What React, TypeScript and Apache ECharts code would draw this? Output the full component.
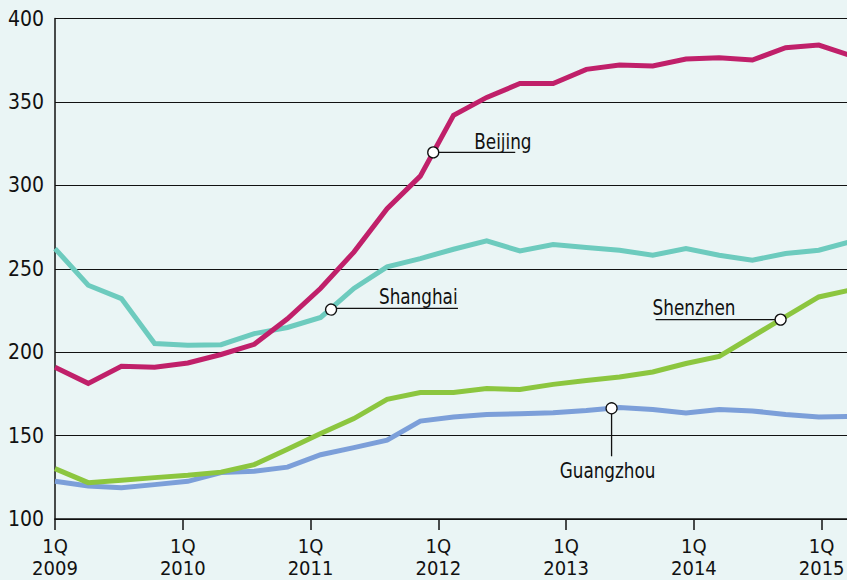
import React, { useEffect, useRef } from "react";
import * as echarts from "echarts";

// Index of each plotted observation (25 evenly spaced points)
const pointIndex = Array.from({ length: 25 }, (_, i) => i);
// Tick labels: first quarter of each year
const tickQuarter = "1Q";
const yearLabels = ["2009", "2010", "2011", "2012", "2013", "2014", "2015"];
const yTicks = [100, 150, 200, 250, 300, 350, 400];

const beijing = [191, 181.3, 191.5, 190.9, 193.5, 198.6, 204.7, 220, 238.3, 260, 286, 305.5, 342, 352.7, 361, 361, 369.5, 372.1, 371.5, 375.7, 376.5, 375.1, 382.5, 384.1, 377.5];
const shanghai = [262.1, 240.1, 232.1, 205.2, 204.1, 204.5, 211.1, 214.8, 220.8, 238.2, 251.1, 256.1, 261.7, 266.7, 260.7, 264.5, 262.7, 261.1, 258.1, 262.1, 258.1, 255.1, 259.1, 261.1, 266.5];
const shenzhen = [130.2, 121.8, 123.2, 124.8, 126.2, 128.1, 132.6, 141.8, 151.2, 160.2, 171.7, 175.8, 175.8, 178.2, 177.6, 180.7, 183, 185.1, 188.1, 193.2, 197.5, 209.4, 221.3, 233.1, 237.5];
const guangzhou = [122.6, 119.8, 118.8, 120.6, 122.6, 127.8, 128.6, 131.1, 138.5, 142.8, 147.2, 158.7, 161.1, 162.7, 163.1, 163.7, 165, 166.8, 165.6, 163.6, 165.6, 164.8, 162.7, 161.1, 161.5];

const cityNames = ["Beijing", "Shanghai", "Shenzhen", "Guangzhou"];
const cityValues = [beijing, shanghai, shenzhen, guangzhou];
// where along each line (in observation index units) the label marker sits
const labelAt = [11.39, 8.31, 21.85, 16.76];

const COLORS = ["#c0206a", "#6dcbbe", "#8cc63f", "#7c9fd9"];
const FONT = "'Liberation Sans Narrow', 'Arial Narrow', 'DejaVu Sans Condensed', sans-serif";

// layout of leader lines and texts, in pixels relative to the marker
const labelLayout = [
  { line: [0, 0, 82, 0], tx: 41, ty: -11, align: "left" },
  { line: [0, 0, 127, 0], tx: 48, ty: -12, align: "left" },
  { line: [-125, 0, 0, 0], tx: -128, ty: -12, align: "left" },
  { line: [0, 0, 0, 48], tx: -4, ty: 62, align: "center" },
];

function interp(arr: number[], k: number) {
  const i = Math.floor(k);
  const f = k - i;
  return arr[i] + (arr[Math.min(i + 1, arr.length - 1)] - arr[i]) * f;
}

export default function App() {
  const ref = useRef<HTMLDivElement>(null);
  useEffect(() => {
    const chart = echarts.init(ref.current!, undefined, { renderer: "svg" });
    const order = [3, 2, 1, 0];
    const lineSeries = order.map((ci) => ({
      type: "line",
      name: cityNames[ci],
      xAxisIndex: 0,
      data: pointIndex.map((i) => [i, cityValues[ci][i]]),
      symbol: "none",
      lineStyle: { color: COLORS[ci], width: 5, cap: "butt", join: "miter" },
      itemStyle: { color: COLORS[ci] },
      z: 2,
    }));
    const annData = cityNames.map((_, ci) => [labelAt[ci], interp(cityValues[ci], labelAt[ci])]);
    chart.setOption({
      animation: false,
      backgroundColor: "#eaf5f5",
      grid: { left: 55, right: -5, top: 18.5, bottom: 61, containLabel: false, outerBoundsMode: "none" },
      xAxis: [
        {
          type: "value",
          min: 0,
          max: pointIndex.length - 1,
          show: false,
          splitLine: { show: false },
        },
        {
          type: "value",
          position: "bottom",
          min: 0,
          max: 24.95,
          interval: 4,
          axisLine: { show: true, onZero: false, lineStyle: { color: "#111", width: 1.5 } },
          axisTick: { show: true, length: 11, inside: false, lineStyle: { color: "#111", width: 1.5 } },
          splitLine: { show: false },
          axisLabel: {
            show: true,
            margin: 16,
            color: "#111",
            fontSize: 20,
            lineHeight: 22,
            fontFamily: FONT,
            formatter: (v: number) => (v % 4 === 0 && yearLabels[v / 4] ? tickQuarter + "\n" + yearLabels[v / 4] : ""),
          },
        },
      ],
      yAxis: {
        type: "value",
        min: yTicks[0],
        max: yTicks[yTicks.length - 1],
        interval: 50,
        axisLine: { show: true, onZero: false, lineStyle: { color: "#111", width: 1.5 } },
        axisTick: { show: false },
        splitLine: { show: true, lineStyle: { color: "#111", width: 1 } },
        axisLabel: { color: "#111", fontSize: 21, margin: 11, fontFamily: FONT },
      },
      series: [
        ...lineSeries,
        {
          type: "custom",
          xAxisIndex: 0,
          clip: false,
          z: 10,
          data: annData,
          renderItem: (params: any, api: any) => {
            const ci = params.dataIndex;
            const lay = labelLayout[ci];
            const p = api.coord([api.value(0), api.value(1)]);
            const x = p[0];
            const y = p[1];
            return {
              type: "group",
              children: [
                {
                  type: "line",
                  shape: { x1: x + lay.line[0], y1: y + lay.line[1], x2: x + lay.line[2], y2: y + lay.line[3] },
                  style: { stroke: "#111", lineWidth: 1.3 },
                },
                {
                  type: "circle",
                  shape: { cx: x, cy: y, r: 5.5 },
                  style: { fill: "#fff", stroke: "#111", lineWidth: 1.3 },
                },
                {
                  type: "text",
                  x: x + lay.tx,
                  y: y + lay.ty,
                  scaleX: 0.87,
                  style: {
                    text: cityNames[ci],
                    fill: "#111",
                    fontSize: 21.5,
                    fontFamily: FONT,
                    align: lay.align,
                    verticalAlign: "middle",
                  },
                },
              ],
            };
          },
        },
      ],
    });
    return () => chart.dispose();
  }, []);
  return <div ref={ref} style={{ position: "fixed", left: 0, top: 0, width: 847, height: 580 }} />;
}
